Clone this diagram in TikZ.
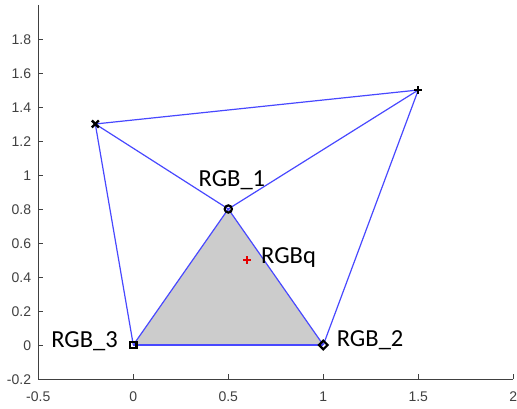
\documentclass[tikz,border=0pt]{standalone}
\usepackage{fontspec}
\setmainfont{Liberation Sans}
\newfontfamily\lblfont{Carlito}
\definecolor{blueline}{RGB}{72,72,255}
\definecolor{trifill}{RGB}{204,204,204}
\definecolor{axcol}{RGB}{64,64,64}
\begin{document}
\begin{tikzpicture}[x=190pt,y=170pt,
  edge/.style={draw=blueline,line width=1.2pt},
  axisline/.style={draw=axcol,line width=0.9pt},
  ticklbl/.style={text=axcol,font=\fontsize{14}{14}\selectfont,inner sep=0pt},
  ptlbl/.style={font=\lblfont\fontsize{24.5}{24.5}\selectfont,inner sep=0pt,text=black},
  mk/.style={draw=black,line width=2.4pt},
  mkthin/.style={draw=black,line width=2.2pt},
  redmk/.style={draw=red!90!black,line width=2.2pt}]
\useasboundingbox (-0.7016,-0.3765) rectangle (2.0195,2.0294);
% axes
\draw[axisline] (-0.5,2) -- (-0.5,-0.2) -- (2,-0.2);
\foreach \y/\t in {-0.2/-0.2,0/0,0.2/0.2,0.4/0.4,0.6/0.6,0.8/0.8,1/1,1.2/1.2,1.4/1.4,1.6/1.6,1.8/1.8}{
  \draw[axisline] (-0.5,\y) -- ++(4.5pt,0);
  \node[ticklbl,anchor=base east] at ([xshift=-7pt,yshift=-5.5pt]-0.5,\y) {\t};
}
\foreach \x/\t in {-0.5/-0.5,0/0,0.5/0.5,1/1,1.5/1.5,2/2}{
  \draw[axisline] (\x,-0.2) -- ++(0,4.5pt);
  \node[ticklbl,anchor=base] at (\x,-0.3335) {\t};
}
% points
\coordinate (pa) at (-0.2,1.3);
\coordinate (pb) at (1.5,1.5);
\coordinate (r1) at (0.5,0.8);
\coordinate (r2) at (1,0);
\coordinate (r3) at (0,0);
\coordinate (q) at (0.6,0.5);
% triangle
\fill[trifill] (r1) -- (r2) -- (r3) -- cycle;
% edges
\draw[edge] (pa) -- (pb);
\draw[edge] (pa) -- (r1);
\draw[edge] (pa) -- (r3);
\draw[edge] (pb) -- (r1);
\draw[edge] (pb) -- (r2);
\draw[edge] (r1) -- (r2);
\draw[edge] (r1) -- (r3);
\draw[edge] (r3) -- (r2);
% markers
\draw[mk] ([shift={(-3.5pt,-3.5pt)}]pa) -- ([shift={(3.5pt,3.5pt)}]pa);
\draw[mk] ([shift={(-3.5pt,3.5pt)}]pa) -- ([shift={(3.5pt,-3.5pt)}]pa);
\draw[mk] ([xshift=-4pt]pb) -- ([xshift=4pt]pb);
\draw[mk] ([yshift=-4pt]pb) -- ([yshift=4pt]pb);
\draw[mkthin] (r1) circle (3.6pt);
\draw[mkthin] ([shift={(-3.2pt,-3.2pt)}]r3) rectangle ([shift={(3.2pt,3.2pt)}]r3);
\draw[mkthin] ([xshift=-4.3pt]r2) -- ([yshift=4.3pt]r2) -- ([xshift=4.3pt]r2) -- ([yshift=-4.3pt]r2) -- cycle;
\draw[redmk] ([xshift=-4pt]q) -- ([xshift=4pt]q);
\draw[redmk] ([yshift=-4pt]q) -- ([yshift=4pt]q);
% labels
\node[ptlbl,anchor=base] (l1) at (0.519,0.935) {RGB\_1};
\node[ptlbl,anchor=base west] (l2) at (1.0705,-0.01) {RGB\_2};
\node[ptlbl,anchor=base east] (l3) at (-0.0805,-0.0135) {RGB\_3};
\node[ptlbl,anchor=base west] (lq) at (0.672,0.482) {RGBq};
\end{tikzpicture}
\end{document}
